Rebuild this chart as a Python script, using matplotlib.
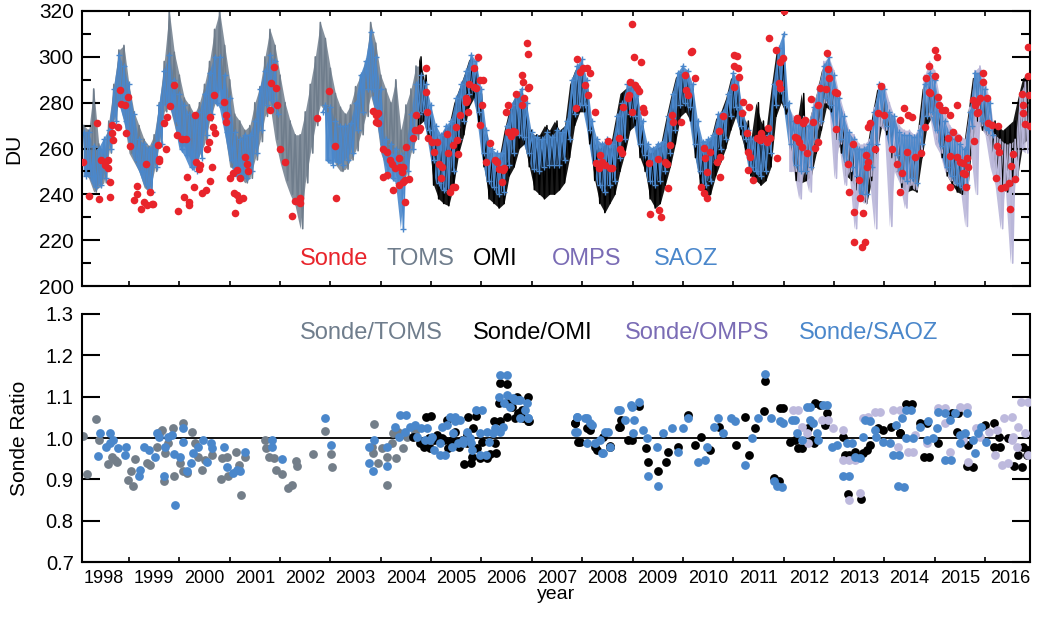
import numpy as np
import matplotlib
matplotlib.use("Agg")
import matplotlib.pyplot as plt
from matplotlib.ticker import MultipleLocator, NullLocator

plt.rcParams['font.family'] = ['Liberation Sans', 'DejaVu Sans']

nan = float('nan')
STEP = 0.05  # sampling of the satellite series (years)

# ---- satellite total ozone (DU), alternating high/low values every STEP ----
toms_start = 1998.10
toms_du = [270, 250, 268, 247, 286, 241, 262, 243, 258, 245,
           272, 258, 288, 272, 303, 280, 305, 272, 288, 258,
           276, 254, 270, 250, 264, 243, 261, 241, 266, 250,
           280, 262, 298, 276, 320, 279, 302, 270, 292, 261,
           282, 261, 279, 256, 275, 252, 280, 257, 288, 262,
           298, 272, 312, 279, 320, 286, 305, 267, 290, 252,
           275, 251, 272, 248, 268, 245, 270, 247, 280, 255,
           287, 263, 300, 274, 312, 279, 305, 264, 292, 254,
           280, 246, 272, 240, 266, 235, 266, 225, 276, 245,
           288, 258, 300, 270, 315, 279, 308, 276, 295, 261,
           284, 253, 278, 250, 275, 251, 279, 255, 287, 259,
           292, 266, 298, 274, 315, 283, 306, 275, 292, 258,
           286, 252, 280, 258, 290, 248, 268, 245, 279, 248,
           286, 258, 296, 264, 296, 272]

saoz_start = 1998.10
saoz_du = [267, 248, 267, 248, 261, 243, 260, 244, 264, 247, 268, 260, 286, 272, 301, 280, 296, 272,
           288, 262, 275, 255, 264, 250, 262, 244, 260, 241, 262, 252, 279, 262, 294, 279, 301, 279, 290, 272,
           284, 260, 279, 257, 275, 252, 274, 250, 276, 256, 284, 266, 293, 275, 300, 280, 300, 278, 292, 267,
           282, 255, 267, 248, 264, 247, 266, 247, 266, 250, 272, 258, 286, 268, 294, 279, 301, 281, 298, 275,
           nan, nan, nan, nan, nan, nan, nan, nan, nan, nan, nan, nan, nan, nan, nan, nan, nan, 276, 279, 255,
           278, 253, 272, 254, 270, 253, 270, 255, 271, 258, 280, 268, 292, 276, 298, 286, 311, 286, 300, 275,
           286, 262, 264, 248, 262, 247, 260, 245, 257, 225, 260, 250, 275, 260, 288, 275, 292, 276, 288, 268,
           279, 255, 270, 245, 266, 242, 270, 241, 272, 250, 282, 264, 288, 272, 294, 284, 301, 286, 298, 276,
           286, 258, 268, 246, 260, 243, 258, 240, 258, 241, 270, 253, 279, 258, 284, 266, 286, 265, 280, 258,
           267, 251, 265, 250, 264, 252, 267, 253, 265, 253, 268, 253, 267, 255, 272, 264, 290, 275, 296, 279,
           299, 279, 290, 268, 272, 254, 264, 244, 262, 241, 264, 244, 262, 246, 274, 256, 280, 264, 288, 275,
           289, 274, 284, 262, 272, 257, 262, 246, 260, 244, 262, 246, 263, 250, 274, 258, 284, 268, 293, 279,
           296, 280, 294, 278, 288, 262, 272, 250, 263, 244, 264, 246, 266, 254, 275, 260, 276, 264, 284, 274,
           293, 278, 290, 270, 276, 264, 268, 252, 264, 250, 264, 248, 262, 250, 266, 258, 288, 279, 304, 285,
           310, 279, 280, 262, 272, 253, 271, 250, 272, 250, 270, 252, 278, 264, 286, 272, 296, 282, 300, 279,
           292, 268, 282, 264, 274, 254, 267, 252, 264, 248, 260, 240, 260, 240, 262, 252, 276, 262, 288, 275,
           286, 270, 276, 260, 274, 257, 267, 248, 266, 246, 266, 247, 265, 245, 268, 262, 288, 274, 293, 276,
           290, 268, 279, 261, 272, 252, 267, 248, 264, 245, 262, 243, 260, 244, 276, 270, 293, 276, 293, 272,
           286, 268, 280, 266]

omi_start = 2004.75
omi_du = [270, 300, 272, 292, 264,
          277, 244, 268, 238, 264, 236, 268, 235, 270, 244, 280, 258, 286, 266, 292, 278, 299, 282, 296, 270,
          284, 252, 266, 238, 258, 236, 256, 234, 256, 236, 268, 248, 277, 252, 282, 260, 284, 262, 278, 252,
          268, 242, 266, 240, 266, 238, 270, 240, 268, 240, 272, 242, 268, 245, 270, 256, 288, 270, 294, 276,
          297, 276, 288, 262, 270, 246, 262, 236, 260, 232, 262, 236, 260, 240, 272, 250, 284, 258, 286, 268,
          287, 270, 282, 256, 270, 250, 260, 238, 258, 234, 260, 236, 261, 244, 272, 252, 282, 262, 291, 274,
          294, 276, 292, 272, 286, 256, 270, 244, 261, 238, 262, 240, 264, 248, 273, 254, 276, 260, 282, 268,
          291, 274, 288, 266, 274, 258, 272, 248, 264, 246, 280, 244, 272, 246, 268, 252, 286, 274, 302, 280,
          300, 275, 278, 256, 270, 246, 269, 245, 284, 246, 268, 248, 276, 258, 284, 268, 294, 278, 298, 276,
          290, 264, 280, 258, 272, 248, 265, 246, 262, 242, 258, 238, 258, 236, 260, 246, 274, 258, 286, 270,
          284, 266, 274, 256, 272, 250, 265, 243, 264, 241, 264, 242, 263, 241, 266, 256, 286, 270, 291, 274,
          288, 264, 277, 256, 270, 248, 265, 244, 262, 241, 260, 240, 258, 240, 274, 264, 291, 272, 291, 268,
          284, 266, 278, 258, 272, 246, 270, 242, 268, 241, 270, 244, 272, 248, 282, 262, 291, 264, 290]

omps_start = 2012.10
omps_du = [278, 250, 274, 250, 272, 238, 274, 250, 272, 241, 280, 262, 288, 270, 298, 280, 300, 279,
           294, 247, 284, 262, 276, 244, 268, 250, 266, 225, 262, 238, 262, 236, 264, 248, 278, 225, 288, 270,
           288, 268, 280, 226, 274, 250, 270, 245, 268, 234, 268, 244, 266, 242, 270, 258, 292, 274, 298, 274,
           294, 262, 282, 258, 276, 250, 270, 246, 268, 244, 266, 244, 264, 226, 278, 262, 294, 240, 296, 270,
           290, 266, 280, 252, 266, 244, 264, 225, 262, 244, 262, 210, 264, 246, 284, 260, 289, 258, 288]

# ---- ozonesondes ----
sonde_t = [1998.09, 1998.21, 1998.37, 1998.41, 1998.44, 1998.52, 1998.59, 1998.59, 1998.62, 1998.62,
           1998.66, 1998.66, 1998.69, 1998.79, 1998.82, 1998.85, 1998.92, 1998.95, 1998.99, 1999.03,
           1999.09, 1999.15, 1999.15, 1999.24, 1999.29, 1999.34, 1999.35, 1999.42, 1999.45, 1999.48,
           1999.58, 1999.59, 1999.60, 1999.70, 1999.73, 1999.76, 1999.82, 1999.90, 1999.95, 1999.97,
           2000.05, 2000.09, 2000.13, 2000.16, 2000.19, 2000.20, 2000.29, 2000.31, 2000.34, 2000.40,
           2000.42, 2000.46, 2000.52, 2000.54, 2000.58, 2000.60, 2000.61, 2000.64, 2000.66, 2000.69,
           2000.71, 2000.89, 2000.92, 2000.92, 2001.01, 2001.07, 2001.09, 2001.11, 2001.14, 2001.14,
           2001.19, 2001.21, 2001.27, 2001.31, 2001.34, 2001.37, 2001.80, 2001.82, 2001.88, 2001.92,
           2001.93, 2002.00, 2002.10, 2002.24, 2002.29, 2002.40, 2002.40, 2002.73, 2002.98, 2003.09,
           2003.11, 2003.85, 2003.90, 2003.90, 2003.95, 2003.95, 2004.05, 2004.05, 2004.12, 2004.12,
           2004.18, 2004.22, 2004.24, 2004.28, 2004.36, 2004.37, 2004.38, 2004.42, 2004.45, 2004.45,
           2004.48, 2004.48, 2004.50, 2004.57, 2004.65, 2004.68, 2004.70, 2004.75, 2004.78, 2004.90,
           2004.90, 2004.91, 2004.93, 2005.01, 2005.05, 2005.11, 2005.16, 2005.20, 2005.21, 2005.31,
           2005.34, 2005.38, 2005.43, 2005.44, 2005.48, 2005.50, 2005.51, 2005.54, 2005.57, 2005.69,
           2005.69, 2005.71, 2005.74, 2005.76, 2005.85, 2005.86, 2005.90, 2005.94, 2005.97, 2005.97,
           2006.01, 2006.03, 2006.10, 2006.17, 2006.27, 2006.30, 2006.35, 2006.40, 2006.42, 2006.44,
           2006.49, 2006.52, 2006.53, 2006.59, 2006.62, 2006.67, 2006.69, 2006.80, 2006.80, 2006.83,
           2006.85, 2006.90, 2006.93, 2006.93, 2006.95, 2007.88, 2007.89, 2007.96, 2008.02, 2008.06,
           2008.09, 2008.12, 2008.16, 2008.25, 2008.28, 2008.34, 2008.35, 2008.39, 2008.45, 2008.52,
           2008.55, 2008.59, 2008.74, 2008.75, 2008.79, 2008.82, 2008.92, 2008.94, 2008.95, 2008.98,
           2008.98, 2009.02, 2009.05, 2009.08, 2009.12, 2009.17, 2009.20, 2009.23, 2009.32, 2009.34,
           2009.51, 2009.53, 2009.56, 2009.65, 2009.69, 2009.71, 2009.75, 2009.78, 2009.81, 2009.96,
           2010.04, 2010.06, 2010.11, 2010.16, 2010.18, 2010.24, 2010.37, 2010.41, 2010.42, 2010.44,
           2010.47, 2010.47, 2010.54, 2010.67, 2010.71, 2010.73, 2010.74, 2010.80, 2011.02, 2011.02,
           2011.02, 2011.07, 2011.10, 2011.12, 2011.17, 2011.20, 2011.27, 2011.30, 2011.30, 2011.32,
           2011.33, 2011.39, 2011.47, 2011.53, 2011.56, 2011.60, 2011.67, 2011.70, 2011.71, 2011.73,
           2011.85, 2011.86, 2011.90, 2011.92, 2011.93, 2011.98, 2012.01, 2012.23, 2012.26, 2012.26,
           2012.27, 2012.30, 2012.36, 2012.39, 2012.39, 2012.43, 2012.46, 2012.54, 2012.59, 2012.62,
           2012.68, 2012.69, 2012.72, 2012.84, 2012.87, 2012.89, 2012.91, 2013.02, 2013.05, 2013.07,
           2013.27, 2013.30, 2013.37, 2013.39, 2013.40, 2013.49, 2013.51, 2013.55, 2013.58, 2013.62,
           2013.64, 2013.65, 2013.67, 2013.67, 2013.72, 2013.82, 2013.88, 2013.94, 2013.99, 2014.15,
           2014.25, 2014.31, 2014.31, 2014.36, 2014.40, 2014.45, 2014.48, 2014.56, 2014.61, 2014.72,
           2014.80, 2014.83, 2014.88, 2014.89, 2014.91, 2015.00, 2015.00, 2015.04, 2015.06, 2015.09,
           2015.14, 2015.21, 2015.27, 2015.31, 2015.31, 2015.31, 2015.37, 2015.44, 2015.44, 2015.47,
           2015.51, 2015.57, 2015.57, 2015.60, 2015.62, 2015.64, 2015.66, 2015.77, 2015.79, 2015.80,
           2015.84, 2015.84, 2015.87, 2015.90, 2015.96, 2015.97, 2016.04, 2016.06, 2016.13, 2016.21,
           2016.23, 2016.25, 2016.28, 2016.32, 2016.40, 2016.47, 2016.50, 2016.52, 2016.56, 2016.60,
           2016.73, 2016.76, 2016.76, 2016.80, 2016.85, 2016.86, 2016.88, 2016.90]
sonde_du = [254.2, 239.4, 271.2, 237.8, 255.2, 252.8, 255.2, 251.3, 245.5, 238.7,
            270.2, 266.9, 263.7, 269.5, 285.5, 279.4, 279.0, 266.9, 282.6, 261.2,
            237.5, 243.6, 240.1, 233.6, 236.8, 253.1, 235.3, 241.1, 236.0, 235.6,
            261.5, 254.7, 255.4, 271.0, 260.0, 273.9, 278.5, 287.7, 265.9, 232.7,
            264.1, 239.0, 264.0, 247.7, 235.3, 236.8, 243.3, 274.6, 254.2, 251.0,
            252.8, 240.4, 241.9, 259.6, 262.9, 245.8, 273.9, 252.0, 269.5, 283.3,
            266.6, 280.4, 274.6, 271.7, 247.0, 249.1, 240.4, 231.7, 239.7, 250.6,
            237.5, 247.2, 238.2, 256.4, 253.1, 250.3, 276.8, 288.4, 295.7, 286.2,
            279.2, 260.0, 254.2, 230.6, 237.0, 238.5, 236.3, 273.4, 285.1, 261.2,
            238.2, 276.4, 274.6, 271.7, 275.3, 271.0, 260.0, 247.7, 258.6, 248.4,
            255.0, 253.1, 241.9, 251.3, 255.7, 244.0, 252.0, 249.9, 252.0, 245.5,
            246.2, 236.8, 260.8, 246.5, 264.4, 268.0, 274.6, 268.0, 268.8, 295.3,
            284.5, 276.1, 264.4, 262.9, 258.6, 262.7, 253.1, 247.0, 252.0, 266.2,
            257.9, 241.1, 243.3, 261.5, 243.3, 269.5, 263.7, 257.4, 274.6, 280.4,
            281.9, 281.1, 276.1, 288.0, 295.0, 287.0, 286.5, 300.0, 289.9, 270.2,
            279.0, 289.9, 254.2, 262.3, 255.2, 254.2, 250.9, 245.5, 250.6, 251.3,
            276.1, 267.3, 279.0, 265.6, 267.6, 267.3, 283.6, 292.0, 279.0, 289.1,
            281.9, 305.9, 301.1, 286.2, 287.0, 277.5, 298.9, 293.5, 295.0, 287.7,
            295.3, 283.3, 292.8, 276.1, 253.5, 251.3, 257.1, 254.2, 252.8, 263.3,
            251.3, 251.6, 264.7, 260.0, 257.9, 278.2, 281.9, 283.3, 288.9, 314.2,
            276.1, 299.8, 287.7, 286.2, 285.1, 297.9, 277.5, 276.1, 253.5, 231.4,
            255.4, 233.1, 229.9, 254.2, 253.1, 242.6, 261.5, 274.6, 271.7, 271.7,
            292.0, 285.5, 283.3, 302.2, 302.5, 290.9, 243.3, 260.3, 240.4, 255.7,
            249.9, 238.2, 258.6, 254.2, 267.6, 256.4, 247.7, 274.3, 300.8, 296.1,
            287.0, 300.5, 295.0, 291.3, 275.3, 280.4, 266.6, 258.6, 250.6, 278.2,
            256.4, 246.2, 264.4, 263.7, 266.6, 264.4, 263.0, 268.8, 308.1, 264.4,
            303.0, 256.0, 288.4, 286.2, 297.9, 299.4, 320.0, 265.1, 272.4, 264.4,
            273.2, 263.0, 260.8, 271.7, 271.0, 272.4, 257.9, 281.4, 271.7, 260.3,
            279.0, 263.0, 286.2, 285.8, 301.5, 294.5, 290.9, 284.8, 268.5, 284.1,
            253.1, 241.1, 261.8, 232.4, 219.0, 246.2, 238.2, 217.1, 231.7, 219.0,
            257.1, 252.0, 254.2, 269.5, 271.0, 259.8, 275.3, 287.4, 274.6, 259.8,
            253.1, 272.4, 241.1, 249.1, 277.8, 258.6, 274.6, 273.9, 256.4, 257.9,
            269.5, 290.6, 284.5, 296.0, 284.1, 303.0, 291.6, 300.0, 282.6, 279.0,
            276.8, 276.8, 264.4, 274.6, 256.9, 243.3, 267.3, 279.0, 256.4, 264.4,
            254.2, 253.5, 249.1, 248.7, 243.3, 255.7, 252.0, 281.1, 263.3, 279.0,
            280.4, 275.3, 276.1, 281.9, 289.1, 292.8, 281.9, 271.3, 270.2, 247.2,
            261.2, 269.9, 258.6, 242.6, 243.3, 244.8, 233.8, 252.5, 257.6, 246.7,
            283.6, 279.2, 275.3, 270.5, 291.8, 304.4, 283.3, 270.0]

# ---- sonde / satellite ratios ----
ratio_toms_t = [1998.08, 1998.17, 1998.35, 1998.41, 1998.59, 1998.66, 1998.72, 1998.77, 1998.99, 1999.07,
                1999.12, 1999.05, 1999.35, 1999.41, 1999.55, 1999.62, 1999.65, 1999.70, 1999.72, 1999.78,
                1999.87, 1999.90, 2000.07, 2000.02, 2000.08, 2000.15, 2000.25, 2000.31, 2000.38, 2000.45,
                2000.51, 2000.64, 2000.82, 2000.84, 2000.94, 2000.97, 2001.13, 2001.22, 2001.31, 2001.19,
                2001.70, 2001.72, 2001.79, 2001.88, 2001.92, 2002.03, 2002.15, 2002.23, 2002.32, 2002.33,
                2002.65, 2002.89, 2003.01, 2003.03, 2003.87, 2003.82, 2003.95, 2003.85, 2004.02, 2004.12,
                2004.13, 2004.22, 2004.30, 2004.25, 2004.35, 2004.45, 2004.53, 2004.68]
ratio_toms = [1.006, 0.912, 1.046, 0.995, 0.936, 0.955, 0.947, 0.943, 0.899, 0.884,
              0.949, 0.919, 0.939, 0.935, 0.979, 1.015, 1.019, 0.895, 0.963, 0.987,
              1.023, 0.907, 1.036, 0.939, 0.919, 0.915, 1.015, 0.987, 0.955, 0.923,
              0.947, 0.959, 0.901, 0.951, 0.955, 0.907, 0.967, 0.861, 0.955, 0.935,
              0.995, 0.975, 0.955, 0.951, 0.923, 0.912, 0.878, 0.887, 0.945, 0.933,
              0.961, 1.018, 0.961, 0.929, 1.034, 0.979, 0.939, 0.963, 0.975, 0.955,
              0.887, 0.987, 0.951, 1.011, 1.015, 0.975, 1.003, 1.015]

ratio_omi_t = [2004.65, 2004.77, 2004.85, 2004.90, 2004.95, 2005.05, 2005.11, 2005.25, 2005.31, 2005.34,
               2005.41, 2005.48, 2005.56, 2005.61, 2005.66, 2005.71, 2005.74, 2005.81, 2005.84, 2005.92,
               2005.97, 2006.01, 2006.16, 2006.24, 2006.27, 2006.37, 2006.34, 2006.50, 2006.60, 2006.70,
               2006.73, 2006.80, 2006.93, 2007.86, 2007.92, 2008.09, 2008.25, 2008.42, 2008.55, 2008.74,
               2008.78, 2008.92, 2009.13, 2009.26, 2009.30, 2009.51, 2009.66, 2009.71, 2009.91, 2010.10,
               2010.24, 2010.37, 2010.54, 2010.72, 2011.06, 2011.23, 2011.32, 2011.43, 2011.62, 2011.64,
               2011.80, 2011.90, 2011.93, 2012.13, 2012.28, 2012.49, 2012.62, 2012.60, 2012.82, 2013.19,
               2013.22, 2013.27, 2013.54, 2013.58, 2013.72, 2013.88, 2014.14, 2014.31, 2014.44, 2014.71,
               2014.78, 2015.07, 2015.34, 2015.44, 2015.64, 2015.67, 2016.00, 2016.17, 2016.27, 2016.46,
               2016.58, 2016.66, 2016.76, 2016.86,
               2005.00, 2004.91, 2004.98, 2005.21, 2005.38, 2005.54, 2005.71, 2005.79, 2005.89, 2005.97,
               2006.12, 2006.29, 2006.37, 2006.51, 2006.50, 2006.67, 2006.83, 2006.93, 2006.95, 2007.86,
               2007.96, 2008.16, 2008.29, 2008.55, 2008.75, 2008.98,
               2011.99, 2012.23, 2012.36, 2012.56, 2012.72, 2012.86, 2013.29, 2013.42, 2013.65, 2013.98,
               2014.31, 2014.56, 2014.84, 2014.88, 2015.47, 2015.77, 2016.17, 2016.30, 2016.73, 2016.83]
ratio_omi = [1.003, 0.989, 0.979, 1.052, 0.999, 0.995, 1.007, 0.995, 1.044, 0.975,
             0.995, 1.015, 0.979, 0.995, 0.937, 0.987, 1.052, 0.955, 1.023, 0.975,
             0.951, 0.991, 0.961, 1.040, 0.987, 1.132, 1.084, 1.052, 1.076, 1.100,
             1.060, 1.068, 1.040, 1.036, 0.991, 1.023, 0.979, 1.003, 0.981, 1.027,
             1.044, 0.995, 1.078, 0.975, 0.943, 0.919, 0.941, 0.967, 0.979, 1.056,
             0.983, 1.003, 0.971, 1.027, 0.983, 1.052, 0.959, 1.023, 1.066, 1.138,
             0.903, 0.895, 1.072, 0.991, 0.975, 1.023, 1.084, 0.987, 1.032, 1.003,
             0.959, 0.865, 0.853, 0.963, 0.983, 1.023, 1.027, 1.011, 1.082, 1.036,
             0.955, 0.987, 1.060, 1.015, 0.932, 0.983, 1.032, 0.979, 1.003, 0.999,
             0.932, 0.959, 0.979, 0.971,
             1.053, 0.995, 0.975, 0.999, 0.991, 0.991, 1.007, 0.939, 1.053, 0.955,
             0.951, 0.963, 1.040, 1.131, 1.084, 1.048, 1.048, 1.100, 1.040, 1.036,
             0.991, 1.019, 0.971, 0.979, 1.027, 0.995,
             1.072, 0.995, 0.975, 0.995, 1.080, 1.060, 0.959, 0.967, 0.971, 1.019,
             1.011, 1.082, 1.036, 0.955, 1.060, 0.931, 1.036, 0.979, 0.931, 0.959]

ratio_omps_t = [2012.19, 2012.36, 2012.49, 2012.76, 2012.99, 2013.19, 2013.19, 2013.29, 2013.52, 2013.42,
                2013.58, 2013.82, 2014.18, 2014.28, 2014.48, 2014.61, 2014.84, 2015.07, 2015.21, 2015.50,
                2015.57, 2015.67, 2015.83, 2016.07, 2016.19, 2016.33, 2016.38, 2016.53, 2016.63, 2016.72,
                2016.80, 2016.86, 2016.66,
                2012.29, 2012.46, 2012.89, 2013.29, 2013.68, 2013.92, 2014.31, 2014.58, 2015.21, 2015.31,
                2015.64, 2015.90, 2016.23, 2016.46, 2016.53, 2016.56, 2016.86]
ratio_omps = [1.068, 1.027, 0.987, 1.044, 1.023, 1.019, 0.947, 0.850, 0.866, 0.947,
              1.048, 1.064, 1.068, 0.979, 0.967, 1.007, 0.987, 1.072, 1.036, 1.076,
              0.995, 0.943, 1.023, 1.015, 0.959, 0.935, 1.048, 0.995, 0.979, 1.088,
              1.011, 0.959, 1.027,
              1.068, 1.011, 1.044, 0.947, 1.052, 1.064, 1.068, 0.967, 1.072, 0.967,
              1.076, 1.003, 1.019, 0.939, 1.052, 1.003, 1.088]

ratio_saoz_t = [1998.38, 1998.43, 1998.55, 1998.62, 1998.62, 1998.68, 1998.79, 1998.92, 1998.94, 1999.19,
                1999.22, 1999.30, 1999.39, 1999.52, 1999.55, 1999.60, 1999.70, 1999.72, 1999.78, 1999.85,
                1999.92, 1999.90, 2000.02, 2000.07, 2000.07, 2000.15, 2000.23, 2000.28, 2000.38, 2000.47,
                2000.54, 2000.62, 2000.64, 2000.88, 2000.94, 2001.07, 2001.15, 2001.21, 2001.31, 2001.84,
                2001.84, 2002.03, 2002.89, 2003.01, 2003.76, 2003.84, 2003.77, 2003.87, 2004.12, 2004.13,
                2004.28, 2004.38, 2004.37, 2004.48, 2004.58, 2004.72, 2004.80, 2004.88, 2004.98, 2005.05,
                2005.17, 2005.21, 2005.38, 2005.41, 2005.44, 2005.48, 2005.54, 2005.64, 2005.71, 2005.79,
                2005.89, 2005.97, 2005.97, 2006.14, 2006.23, 2006.27, 2006.34, 2006.37, 2006.44, 2006.57,
                2006.67, 2006.77, 2006.73, 2006.86, 2006.93, 2007.89, 2007.86, 2008.06, 2008.09, 2008.20,
                2008.25, 2008.40, 2008.45, 2008.55, 2008.72, 2008.85, 2008.97, 2009.00, 2009.13, 2009.20,
                2009.28, 2009.30, 2009.48, 2009.50, 2009.61, 2009.78, 2009.91, 2010.01, 2010.11, 2010.31,
                2010.44, 2010.47, 2010.61, 2010.70, 2010.80, 2010.96, 2011.03, 2011.23, 2011.37, 2011.50,
                2011.63, 2011.76, 2011.80, 2011.86, 2011.93, 2012.16, 2012.36, 2012.46, 2012.53, 2012.66,
                2012.79, 2012.96, 2013.19, 2013.25, 2013.42, 2013.58, 2013.62, 2013.82, 2013.98, 2014.18,
                2014.28, 2014.24, 2014.35, 2014.44, 2014.58, 2014.71, 2014.87, 2014.97, 2015.07, 2015.21,
                2015.31, 2015.40, 2015.50, 2015.60, 2015.80, 2015.87,
                2004.50, 2004.68, 2004.91, 2005.01, 2005.18, 2005.28, 2005.31, 2005.47, 2005.57, 2005.64,
                2005.77, 2005.81, 2006.02, 2006.12, 2006.10, 2006.37, 2006.43, 2006.51, 2006.50, 2006.63,
                2006.77, 2006.90, 2006.93, 2007.90, 2007.89, 2008.09, 2008.16, 2008.35, 2008.42, 2008.52,
                2008.75, 2008.98, 2009.02,
                2011.99, 2011.96, 2012.23, 2012.26, 2012.52, 2012.59, 2012.69, 2012.86, 2013.06, 2013.29,
                2013.35, 2013.52, 2013.72, 2013.83, 2014.11, 2014.30, 2014.39, 2014.44, 2014.54, 2014.84,
                2015.04, 2015.21, 2015.32, 2015.50, 2015.64, 2015.77, 2015.93, 2016.03]
ratio_saoz = [0.957, 1.011, 0.979, 1.011, 0.987, 0.995, 0.975, 0.959, 0.979, 0.907,
              0.923, 0.979, 0.971, 0.955, 1.011, 1.003, 0.907, 0.979, 1.003, 1.007,
              0.837, 0.961, 0.955, 0.991, 1.023, 0.919, 0.939, 0.963, 0.979, 0.995,
              0.943, 0.987, 0.975, 0.979, 0.931, 0.915, 0.923, 0.919, 0.965, 0.995,
              0.979, 0.949, 1.049, 0.982, 0.979, 0.919, 0.940, 0.995, 0.979, 0.932,
              1.027, 1.056, 1.003, 1.015, 1.027, 1.003, 1.025, 0.995, 0.995, 0.971,
              0.959, 1.027, 1.052, 0.979, 1.011, 1.040, 0.987, 0.995, 1.015, 0.987,
              1.068, 1.011, 0.959, 0.991, 1.011, 1.023, 1.100, 1.152, 1.084, 1.076,
              1.092, 1.048, 1.092, 1.068, 1.048, 1.052, 1.015, 1.048, 0.987, 1.032,
              0.987, 0.963, 1.015, 0.979, 1.068, 1.044, 1.080, 1.011, 1.088, 1.019,
              0.999, 0.907, 0.979, 0.883, 1.011, 1.023, 0.967, 1.023, 1.048, 0.943,
              0.947, 0.979, 1.027, 1.048, 1.011, 1.048, 1.040, 0.935, 0.999, 1.048,
              1.155, 1.048, 0.895, 0.883, 1.040, 1.044, 0.995, 1.074, 1.044, 1.011,
              1.080, 0.979, 0.907, 0.987, 0.955, 1.003, 1.044, 1.019, 0.991, 0.959,
              0.883, 1.032, 1.048, 1.068, 0.999, 1.027, 1.040, 0.999, 1.064, 0.947,
              1.044, 1.060, 0.987, 1.011, 0.963, 1.011,
              1.056, 1.031, 1.023, 1.003, 0.987, 0.959, 1.031, 1.052, 1.044, 0.987,
              0.999, 0.971, 1.068, 1.015, 0.959, 1.015, 1.027, 1.152, 1.104, 1.096,
              1.092, 1.084, 1.048, 1.052, 1.015, 1.048, 1.036, 0.995, 0.963, 1.015,
              1.068, 1.076, 1.044,
              1.036, 0.882, 1.044, 1.011, 1.076, 1.036, 0.995, 1.080, 0.983, 0.907,
              0.987, 0.951, 1.040, 1.003, 0.987, 0.959, 0.882, 0.999, 1.068, 0.995,
              1.023, 1.060, 0.947, 1.007, 1.060, 0.995, 1.027, 0.991]

years = np.arange(1999, 2017)
label_years = np.arange(1998, 2017)

RED = '#e8242b'
TOMS_C = '#6f7d8c'
OMPS_LINE = '#b9b6d9'
OMPS_TXT = '#7a6cb5'
SAOZ_C = '#4a87cb'


def series_time(start, values):
    return start + STEP * np.arange(len(values))


def draw_band(ax, start, values, color, lw, alpha, **kw):
    # daily-style record: shade between each high/low pair, then trace the zigzag
    t = series_time(start, values)
    v = np.asarray(values, dtype=float)
    a, b = v[0::2], v[1::2]
    n = min(len(a), len(b))
    ax.fill_between(t[0::2][:n], a[:n], b[:n], color=color, lw=0, alpha=alpha)
    ax.plot(t, v, color=color, lw=lw, **kw)


fig = plt.figure(figsize=(10.45, 6.19), dpi=100)
ax1 = fig.add_axes([82 / 1045, 1 - 286 / 619, 948 / 1045, 275 / 619])
ax2 = fig.add_axes([82 / 1045, 1 - 562 / 619, 948 / 1045, 248 / 619])

# top panel: total column ozone
draw_band(ax1, toms_start, toms_du, TOMS_C, 1.2, 0.85)
draw_band(ax1, omi_start, omi_du, 'black', 1.1, 0.9)
draw_band(ax1, omps_start, omps_du, OMPS_LINE, 1.2, 0.9)
draw_band(ax1, saoz_start, saoz_du, SAOZ_C, 1.1, 0.9, marker='+', ms=4, mew=1.0)
ax1.scatter(sonde_t, sonde_du, s=30, color=RED, zorder=5, linewidths=0)

ax1.set_xlim(1998.067, 2016.894)
ax1.set_ylim(200, 320)
ax1.set_ylabel('DU', fontsize=15)
ax1.yaxis.set_label_coords(-0.062, 0.5)
ax1.yaxis.set_major_locator(MultipleLocator(20))
ax1.yaxis.set_minor_locator(MultipleLocator(10))
ax1.set_xticks(years)
ax1.xaxis.set_minor_locator(NullLocator())
ax1.tick_params(axis='y', which='major', direction='in', length=13, width=1.5,
                left=True, right=True, labelsize=15, pad=6)
ax1.tick_params(axis='y', which='minor', direction='in', length=6.5, width=1.5,
                left=True, right=True)
ax1.tick_params(axis='x', which='major', direction='in', length=3.5, width=1.2,
                top=True, bottom=True, labelbottom=False)

for lab, xf, col in [('Sonde', 0.230, RED), ('TOMS', 0.3217, TOMS_C), ('OMI', 0.4124, 'black'),
                     ('OMPS', 0.4958, OMPS_TXT), ('SAOZ', 0.6034, SAOZ_C)]:
    ax1.text(xf, 0.098, lab, color=col, fontsize=17, ha='left', va='center',
             transform=ax1.transAxes)

# bottom panel: ratios
ax2.axhline(1.0, color='black', lw=1.3, zorder=1)
ax2.scatter(ratio_toms_t, ratio_toms, s=40, color='#737e89', linewidths=0, zorder=2)
ax2.scatter(ratio_omi_t, ratio_omi, s=40, color='black', linewidths=0, zorder=3)
ax2.scatter(ratio_omps_t, ratio_omps, s=40, color='#bdb9dd', linewidths=0, zorder=4)
ax2.scatter(ratio_saoz_t, ratio_saoz, s=40, color=SAOZ_C, linewidths=0, zorder=5)

ax2.set_xlim(1998.067, 2016.894)
ax2.set_ylim(0.7, 1.3)
ax2.spines['top'].set_visible(False)
ax2.set_ylabel('Sonde Ratio', fontsize=15)
ax2.yaxis.set_label_coords(-0.056, 0.5)
ax2.set_xlabel('year', fontsize=14)
ax2.xaxis.set_label_coords(0.5, -0.095)
ax2.set_yticks([0.7, 0.8, 0.9, 1.0, 1.1, 1.2, 1.3])
ax2.set_yticklabels(['0.7', '0.8', '0.9', '1.0', '1.1', '1.2', '1.3'])
ax2.set_xticks(years)
ax2.set_xticks(label_years + 0.5, minor=True)
ax2.set_xticklabels([str(y) for y in label_years], minor=True)
ax2.tick_params(axis='y', which='major', direction='in', length=13, width=1.5,
                left=True, right=True, labelsize=14.5, pad=6)
ax2.tick_params(axis='x', which='major', direction='in', length=3.5, width=1.2,
                bottom=True, top=False, labelbottom=False)
ax2.tick_params(axis='x', which='minor', length=0, labelsize=13, pad=6)

for ax in (ax1, ax2):
    for sp in ax.spines.values():
        sp.set_linewidth(1.5)

for lab, xf, col in [('Sonde/TOMS', 0.230, TOMS_C), ('Sonde/OMI', 0.4124, 'black'),
                     ('Sonde/OMPS', 0.5728, OMPS_TXT), ('Sonde/SAOZ', 0.7563, SAOZ_C)]:
    ax2.text(xf, 0.923, lab, color=col, fontsize=17, ha='left', va='center',
             transform=ax2.transAxes)

# title sits mostly above the canvas, as in the source figure
fig.text(0.5426, 1.0065, 'Reunion Island, France', fontsize=17, ha='center', va='baseline')

fig.savefig('out.png', dpi=100)
